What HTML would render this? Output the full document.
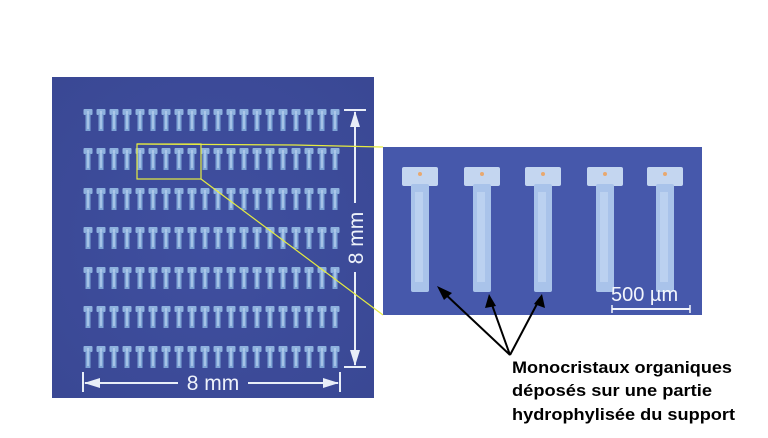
<!DOCTYPE html>
<html><head><meta charset="utf-8"><style>
html,body{margin:0;padding:0;background:#fff;width:768px;height:438px;overflow:hidden}
svg{display:block}
</style></head><body>
<svg width="768" height="438" viewBox="0 0 768 438" xmlns="http://www.w3.org/2000/svg" font-family="Liberation Sans, Arial, sans-serif">
<defs>
<radialGradient id="bg" cx="50%" cy="50%" r="70%"><stop offset="0" stop-color="#3f4fa0"/><stop offset="1" stop-color="#3a4894"/></radialGradient>
<g id="pin"><rect x="-4.5" y="0" width="9" height="6" rx="1" fill="#8fb2de"/><rect x="-2.5" y="5" width="5" height="17" fill="#7ea4d6"/><rect x="-1" y="2" width="2" height="18" fill="#b6d0ee" opacity="0.7"/></g>
<g id="row">
<use href="#pin" x="88"/><use href="#pin" x="101"/><use href="#pin" x="114"/><use href="#pin" x="127"/><use href="#pin" x="140"/><use href="#pin" x="153"/><use href="#pin" x="166"/><use href="#pin" x="179"/><use href="#pin" x="192"/><use href="#pin" x="205"/><use href="#pin" x="218"/><use href="#pin" x="231"/><use href="#pin" x="244"/><use href="#pin" x="257"/><use href="#pin" x="270"/><use href="#pin" x="283"/><use href="#pin" x="296"/><use href="#pin" x="309"/><use href="#pin" x="322"/><use href="#pin" x="335"/>
</g>
<g id="big"><rect x="-18" y="0" width="36" height="19" rx="2" fill="#c4d6f0"/><rect x="-9" y="17" width="18" height="108" rx="2" fill="#a9c3ea"/><rect x="-5" y="25" width="8" height="90" fill="#c8daf3" opacity="0.6"/><circle cx="0" cy="7" r="2" fill="#e8a870"/></g>
</defs>
<rect x="52" y="77" width="322" height="321" fill="url(#bg)"/>
<use href="#row" y="109"/><use href="#row" y="148"/><use href="#row" y="188"/><use href="#row" y="227"/><use href="#row" y="267"/><use href="#row" y="306"/><use href="#row" y="346"/>
<g stroke="#e8eef8" stroke-width="2" fill="none">
<line x1="344" y1="110" x2="366" y2="110"/><line x1="344" y1="367" x2="366" y2="367"/>
<line x1="355" y1="112" x2="355" y2="203"/><line x1="355" y1="272" x2="355" y2="365"/>
<line x1="83" y1="372" x2="83" y2="392"/><line x1="340" y1="372" x2="340" y2="392"/>
<line x1="85" y1="383" x2="178" y2="383"/><line x1="248" y1="383" x2="338" y2="383"/>
</g>
<g fill="#e8eef8">
<polygon points="355,111 350,127 360,127"/><polygon points="355,366 350,350 360,350"/>
<polygon points="84,383 100,378 100,388"/><polygon points="339,383 323,378 323,388"/>
</g>
<text x="213" y="390" font-size="21" fill="#eef2fa" text-anchor="middle">8 mm</text>
<text transform="translate(363,238) rotate(-90)" font-size="21" fill="#eef2fa" text-anchor="middle">8 mm</text>
<rect x="383" y="147" width="319" height="168" fill="#4658ab"/>
<use href="#big" x="420" y="167"/><use href="#big" x="482" y="167"/><use href="#big" x="543" y="167"/><use href="#big" x="605" y="167"/><use href="#big" x="665" y="167"/>
<text x="611" y="301" font-size="20" fill="#f2f5fc">500 µm</text>
<line x1="612" y1="309" x2="690" y2="309" stroke="#f2f5fc" stroke-width="2"/>
<line x1="612" y1="305" x2="612" y2="313" stroke="#f2f5fc" stroke-width="1.5"/><line x1="690" y1="305" x2="690" y2="313" stroke="#f2f5fc" stroke-width="1.5"/>
<g stroke="#e6ec40" stroke-width="1.2" fill="none">
<rect x="137" y="144" width="64" height="35"/>
<polyline points="137,144 295,145 383,147"/>
<line x1="201" y1="179" x2="383" y2="315"/>
</g>
<g stroke="#000" stroke-width="2">
<line x1="510" y1="355" x2="443" y2="292"/><line x1="510" y1="355" x2="491" y2="302"/><line x1="510" y1="355" x2="538" y2="302"/>
</g>
<g fill="#000">
<polygon points="437,286 452,293 444,300"/>
<polygon points="489,294 496,306 485,308"/>
<polygon points="542,294 545,308 534,304"/>
</g>
<g font-size="17" font-weight="bold" fill="#000">
<text x="512" y="373" textLength="220" lengthAdjust="spacingAndGlyphs">Monocristaux organiques</text>
<text x="512" y="396" textLength="200" lengthAdjust="spacingAndGlyphs">déposés sur une partie</text>
<text x="512" y="420" textLength="223" lengthAdjust="spacingAndGlyphs">hydrophylisée du support</text>
</g>
</svg>
</body></html>
